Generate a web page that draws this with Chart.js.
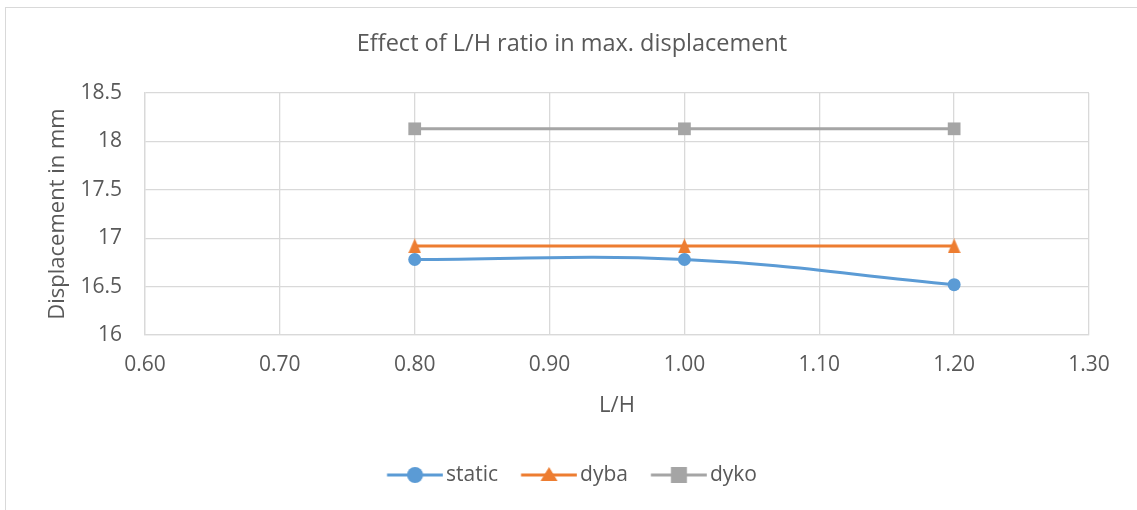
<!DOCTYPE html>
<html>
<head>
<meta charset="utf-8">
<script src="https://cdn.jsdelivr.net/npm/chart.js@4.4.1/dist/chart.umd.min.js"></script>
<style>
  html, body { margin: 0; padding: 0; background: #ffffff; }
  #wrap { position: relative; width: 1137px; height: 510px; overflow: hidden; }
  #frame { position: absolute; left: 5px; top: 7px; width: 1150px; height: 520px; border: 1px solid #d9d9d9; box-sizing: border-box; }
  canvas { position: absolute; left: 0; top: 0; }
</style>
</head>
<body>
<div id="wrap">
  <div id="frame"></div>
  <canvas id="c" width="1137" height="510"></canvas>
</div>
<script>
const xValues = [0.80, 1.00, 1.20];
const staticValues = [16.78, 16.78, 16.52];
const dybaValues = [16.92, 16.92, 16.92];
const dykoValues = [18.13, 18.13, 18.13];
const seriesNames = ['static', 'dyba', 'dyko'];
const titleText = 'Effect of L/H ratio in max. displacement';
const xTitle = 'L/H';
const yTitle = 'Displacement in mm';

const FONT = '"Open Sans", "Noto Sans", sans-serif';
const TEXT = '#595959';
const colors = ['#5B9BD5', '#ED7D31', '#A5A5A5'];

function pts(vals) { return xValues.map((x, i) => ({ x: x, y: vals[i] })); }

function triangleImg(color, w, h) {
  const cv = document.createElement('canvas');
  cv.width = w; cv.height = h;
  const g = cv.getContext('2d');
  g.fillStyle = color;
  g.beginPath(); g.moveTo(w / 2, 0); g.lineTo(w, h); g.lineTo(0, h); g.closePath(); g.fill();
  return cv;
}

function legendIcon(color, kind) {
  const cv = document.createElement('canvas');
  cv.width = 64; cv.height = 18;
  const g = cv.getContext('2d');
  const x0 = 7.75, cx = x0 + 28, cy = 9;
  g.strokeStyle = color; g.lineWidth = 3;
  g.beginPath(); g.moveTo(x0, cy); g.lineTo(x0 + 56, cy); g.stroke();
  g.fillStyle = color;
  g.beginPath();
  if (kind === 0) { g.arc(cx, cy, 8, 0, Math.PI * 2); }
  else if (kind === 1) { g.moveTo(cx, cy - 8); g.lineTo(cx + 8.5, cy + 6); g.lineTo(cx - 8.5, cy + 6); g.closePath(); }
  else { g.rect(cx - 8, cy - 8, 16, 16); }
  g.fill();
  return cv;
}

const data = [staticValues, dybaValues, dykoValues];
const pointStyles = ['circle', triangleImg(colors[1], 13, 15), 'rect'];
const radii = [6.5, 7.5, 9];
const datasets = seriesNames.map((n, i) => ({
  label: n,
  data: pts(data[i]),
  borderColor: colors[i],
  backgroundColor: colors[i],
  borderWidth: 3,
  pointStyle: pointStyles[i],
  pointRadius: radii[i],
  pointHoverRadius: radii[i],
  pointBorderWidth: 0,
  tension: i === 0 ? 0.4 : 0,
  fill: false,
  yAxisID: 'y'
}));

new Chart(document.getElementById('c'), {
  type: 'line',
  data: { datasets: datasets },
  options: {
    responsive: false,
    animation: false,
    devicePixelRatio: 1,
    layout: { padding: { left: 30, right: 23, top: 0, bottom: 14.5 } },
    plugins: {
      title: {
        display: true, text: titleText, color: TEXT,
        font: { family: FONT, size: 23.5, weight: 'normal' },
        padding: { top: 30, bottom: 34.8 }
      },
      legend: {
        position: 'bottom',
        labels: {
          color: TEXT, font: { family: FONT, size: 21 },
          usePointStyle: true, pointStyleWidth: 48.5, padding: 23,
          generateLabels: function(chart) {
            return chart.data.datasets.map((d, i) => ({
              text: d.label, fillStyle: d.backgroundColor, strokeStyle: d.borderColor,
              pointStyle: legendIcon(colors[i], i), lineWidth: 0,
              datasetIndex: i, hidden: false, fontColor: TEXT
            }));
          }
        }
      },
      tooltip: { enabled: false }
    },
    scales: {
      x: {
        type: 'linear', min: 0.6, max: 1.3,
        ticks: { stepSize: 0.1, color: TEXT, font: { family: FONT, size: 21 }, padding: 17.4,
          callback: v => Number(v).toFixed(2) },
        grid: { color: '#d9d9d9', lineWidth: 1.3, drawTicks: false },
        border: { color: '#d9d9d9', width: 1.3 },
        title: { display: true, text: xTitle, color: TEXT, font: { family: FONT, size: 22 }, padding: { top: 0, bottom: 22.3 } },
        afterFit: s => { s.height = 106.5; }
      },
      y: {
        position: 'left',
        min: 16, max: 18.5,
        ticks: { stepSize: 0.5, color: TEXT, font: { family: FONT, size: 21 }, padding: 23,
          callback: v => String(Math.round(v * 10) / 10) },
        grid: { color: '#d9d9d9', lineWidth: 1.3, drawTicks: false },
        border: { color: '#d9d9d9', width: 1.3 },
        title: { display: true, text: yTitle, color: TEXT, font: { family: FONT, size: 22 }, padding: { top: 14.5, bottom: 0 } },
        afterFit: s => { s.width = 115; }
      },
      yRight: {
        position: 'right',
        display: true,
        ticks: { display: false },
        grid: { display: false, drawTicks: false },
        border: { display: false },
        afterFit: s => { s.width = 25; }
      }
    }
  }
});
</script>
</body>
</html>
